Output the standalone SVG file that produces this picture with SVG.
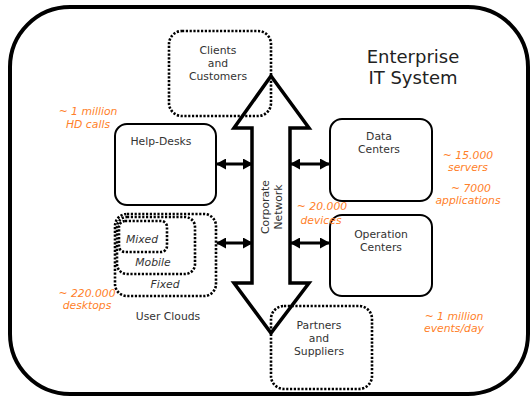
<svg xmlns="http://www.w3.org/2000/svg" width="531" height="397" viewBox="0 0 531 397">
<style>
.lbl{font-family:"DejaVu Sans",Verdana,sans-serif;font-size:10.8px;fill:#333;text-anchor:middle}
.it{font-style:italic}
.org{font-family:"DejaVu Sans",Verdana,sans-serif;font-size:10.8px;font-style:italic;fill:#ff7f2a;text-anchor:middle}
.box{fill:#fff;stroke:#000;stroke-width:2}
.dot{fill:none;stroke:#000;stroke-width:2.6;stroke-dasharray:2.2 1.6}
.link{stroke:#000;stroke-width:3;fill:none;marker-start:url(#ah);marker-end:url(#ah)}
</style>
<defs>
<marker id="ah" markerWidth="10" markerHeight="11" refX="9" refY="5.5" orient="auto-start-reverse" markerUnits="userSpaceOnUse">
<path d="M0,0 L10,5.5 L0,11 Z" fill="#000"/>
</marker>
</defs>
<rect x="10" y="7" width="518" height="387" rx="60" fill="#fff" stroke="#000" stroke-width="4"/>
<g id="title"><text x="413" y="63" style="font-family:'DejaVu Sans',Verdana,sans-serif;font-size:18px;fill:#222;text-anchor:middle">Enterprise</text><text x="413" y="84" style="font-family:'DejaVu Sans',Verdana,sans-serif;font-size:18px;fill:#222;text-anchor:middle">IT System</text></g>
<g id="network">
<polygon points="271,76 309,128 290,128 290,283 309,283 271,333 234,283 252,283 252,128 234,128" fill="#fff" stroke="#000" stroke-width="3.5" stroke-linejoin="miter"/>
<text class="lbl" transform="translate(271,207) rotate(-90)"><tspan x="0" y="-2">Corporate</tspan><tspan x="0" y="11">Network</tspan></text>
</g>
<g id="clients"><rect class="dot" x="169" y="31" width="102" height="85" rx="13"/><text class="lbl" x="218" y="54">Clients</text><text class="lbl" x="218" y="67">and</text><text class="lbl" x="218" y="80">Customers</text></g>
<g id="partners"><rect class="dot" x="271" y="306" width="101" height="83" rx="13"/><text class="lbl" x="319" y="329">Partners</text><text class="lbl" x="319" y="342">and</text><text class="lbl" x="319" y="355">Suppliers</text></g>
<g id="helpdesks"><rect class="box" x="115" y="124" width="101" height="81" rx="12"/><text class="lbl" x="161" y="145">Help-Desks</text></g>
<g id="datacenters"><rect class="box" x="330" y="119" width="102" height="82" rx="12"/><text class="lbl" x="379" y="140">Data</text><text class="lbl" x="379" y="153">Centers</text></g>
<g id="operation"><rect class="box" x="330" y="215" width="102" height="81" rx="12"/><text class="lbl" x="381" y="238">Operation</text><text class="lbl" x="381" y="251">Centers</text></g>
<g id="userclouds">
<rect class="dot" x="115" y="214" width="101" height="82" rx="12"/>
<rect class="dot" x="117" y="217" width="78" height="57" rx="10"/>
<rect class="dot" x="119" y="221" width="48" height="31" rx="6"/>
<text class="lbl it" x="142" y="243">Mixed</text>
<text class="lbl it" x="153" y="266">Mobile</text>
<text class="lbl it" x="165" y="288">Fixed</text>
<text class="lbl" x="168" y="320">User Clouds</text>
</g>
<g id="connectors">
<line class="link" x1="217" y1="164" x2="252" y2="164"/>
<line class="link" x1="291" y1="164" x2="329" y2="164"/>
<line class="link" x1="217" y1="243" x2="252" y2="243"/>
<line class="link" x1="291" y1="243" x2="329" y2="243"/>
</g>
<g id="stats">
<text class="org" x="88" y="115">~ 1 million</text><text class="org" x="88" y="128">HD calls</text>
<text class="org" x="468" y="159">~ 15.000</text><text class="org" x="468" y="171">servers</text>
<text class="org" x="471" y="192">~ 7000</text><text class="org" x="468" y="204">applications</text>
<text class="org" x="322" y="210">~ 20.000</text><text class="org" x="321" y="224">devices</text>
<text class="org" x="87" y="297">~ 220.000</text><text class="org" x="87" y="309">desktops</text>
<text class="org" x="454" y="320">~ 1 million</text><text class="org" x="454" y="332">events/day</text>
</g>
</svg>
